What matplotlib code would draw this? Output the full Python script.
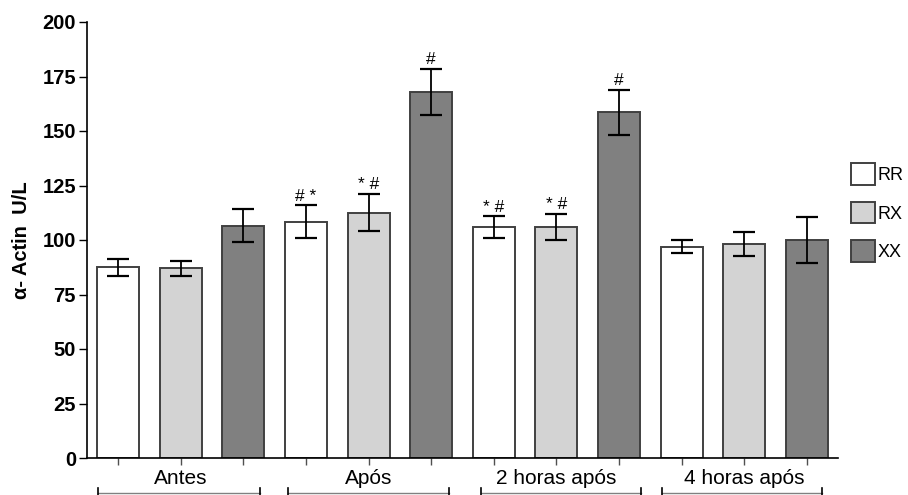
import matplotlib
matplotlib.use("Agg")
import matplotlib.pyplot as plt
import numpy as np

plt.rcParams['font.family'] = ['Liberation Sans', 'DejaVu Sans']

# data
groups = ['Antes', 'Após', '2 horas após', '4 horas após']
series = ['RR', 'RX', 'XX']
rr_mean = [87.5, 108.4, 105.8, 97.0]
rx_mean = [87.0, 112.5, 106.1, 98.0]
xx_mean = [106.5, 168.0, 158.5, 100.0]
rr_err = [4.0, 7.5, 5.0, 3.0]
rx_err = [3.5, 8.5, 6.0, 5.5]
xx_err = [7.5, 10.5, 10.3, 10.5]
rr_marks = ['', '# *', '* #', '']
rx_marks = ['', '* #', '* #', '']
xx_marks = ['', '#', '#', '']

colors = ['white', '#d3d3d3', '#808080']
edge = '#404040'

fig = plt.figure(figsize=(9.08, 4.95), dpi=100)
ax = fig.add_axes([87/908, 1-458/495, (838-87)/908, 436/495])

means = [rr_mean, rx_mean, xx_mean]
errs = [rr_err, rx_err, xx_err]
marks = [rr_marks, rx_marks, xx_marks]
handles = []
for s in range(3):
    x = np.arange(len(groups)) * 3 + s
    b = ax.bar(x, means[s], 0.67, color=colors[s], edgecolor=edge, linewidth=1.4,
               yerr=errs[s], capsize=8, error_kw=dict(elinewidth=1.3, capthick=1.6, ecolor='black'),
               label=series[s], zorder=2)
    handles.append(b)
    for xi, m, e, t in zip(x, means[s], errs[s], marks[s]):
        if t:
            ax.text(xi, m + e + 0.8, t, ha='center', va='bottom', fontsize=12.5)

ax.set_xlim(-0.5, 11.5)
ax.set_ylim(0, 200)
ax.set_yticks(np.arange(0, 201, 25))
ax.tick_params(axis='y', length=6, width=1, labelsize=14.5, pad=2)
for lbl in ax.get_yticklabels():
    lbl.set_fontweight('bold')
ax.set_xticks(np.arange(12))
ax.set_xticklabels([])
ax.tick_params(axis='x', length=5, width=1, color='#505050')
for sp in ['top', 'right']:
    ax.spines[sp].set_visible(False)
ax.spines['left'].set_linewidth(1.2)
ax.spines['bottom'].set_linewidth(1.2)
ax.set_ylabel('α- Actin  U/L', fontsize=14.5, fontweight='bold', labelpad=8)

# group labels and brackets under the axis
trans = ax.get_xaxis_transform()
brackets = [(-0.32, 2.26), (2.71, 5.28), (5.79, 8.35), (8.69, 11.25)]
for i, g in enumerate(groups):
    ax.text(i * 3 + 1, -0.046, g, transform=trans, ha='center', va='center', fontsize=15, clip_on=False)
    a, b2 = brackets[i]
    ax.plot([a, b2], [-0.08, -0.08], transform=trans, color='#808080', lw=1, clip_on=False)
    for xe in (a, b2):
        ax.plot([xe, xe], [-0.069, -0.1], transform=trans, color='black', lw=1.2, clip_on=False)

ax.legend(handles=[h.patches[0] for h in handles], labels=series, loc='upper left',
          bbox_to_anchor=(1.0, 0.705), frameon=False, fontsize=13,
          handlelength=1.35, handleheight=1.45, handletextpad=0.15, labelspacing=0.95,
          borderaxespad=0.3)

fig.savefig('out.png', dpi=100)
